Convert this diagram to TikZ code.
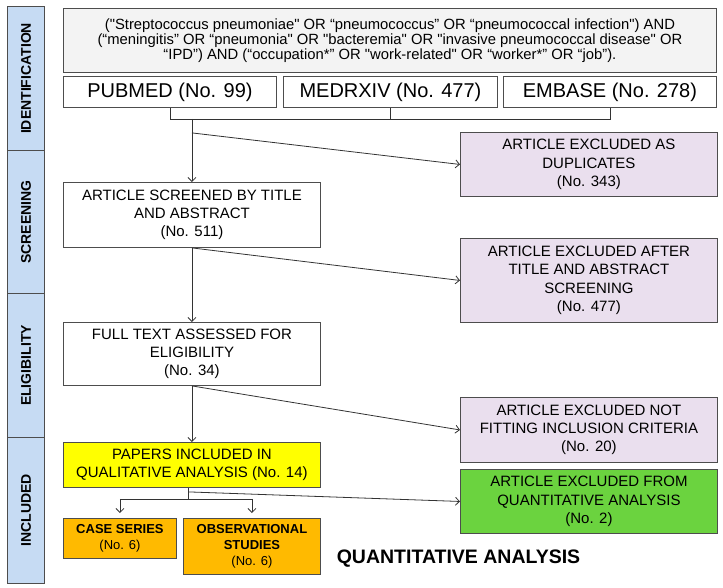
\documentclass[tikz,border=0pt]{standalone}
\usepackage{fontspec}
\setmainfont{Liberation Sans}
\newfontfamily\qfont{Liberation Sans}
\usetikzlibrary{arrows.meta,calc}
\definecolor{linegray}{HTML}{4D4D4D}
\definecolor{conncol}{HTML}{333333}
\definecolor{sidebl}{HTML}{C6DBF3}
\definecolor{querybg}{HTML}{F3F3F3}
\definecolor{lav}{HTML}{EADFEE}
\definecolor{yel}{HTML}{FFFF00}
\definecolor{orng}{HTML}{FFBA00}
\definecolor{grn}{HTML}{6BD33F}
\begin{document}
\begin{tikzpicture}[x=1pt,y=-1pt,
  box/.style={draw=linegray, line width=0.9pt, inner sep=0pt, align=center, anchor=north west,
              font=\fontsize{15}{18.3}\selectfont},
  dbbox/.style={box, font=\fontsize{20}{22}\selectfont, minimum height=31pt},
  smallbox/.style={box, fill=orng, font=\fontsize{13}{16}\selectfont},
  sidebox/.style={draw=linegray, line width=0.9pt, fill=sidebl, inner sep=0pt, anchor=north west, minimum width=37pt},
  sidelab/.style={rotate=90, font=\bfseries\fontsize{14}{16}\selectfont},
  conn/.style={draw=conncol, line width=0.8pt},
  arr/.style={conn, -{Straight Barb[length=4pt,width=8pt]}}]
\useasboundingbox (0,0) rectangle (723,587);

% side bar
\node[sidebox, minimum height=144pt] (s1) at (7,6) {};
\node[sidebox, minimum height=143pt] (s2) at (7,150) {};
\node[sidebox, minimum height=144pt] (s3) at (7,293) {};
\node[sidebox, minimum height=146pt] (s4) at (7,437) {};
\node[sidelab] (l1) at (s1.center) {IDENTIFICATION};
\node[sidelab] (l2) at (s2.center) {SCREENING};
\node[sidelab] (l3) at (s3.center) {ELIGIBILITY};
\node[sidelab] (l4) at (s4.center) {INCLUDED};

% query
\node[box, fill=querybg, minimum width=653pt, minimum height=64pt, font=\qfont\fontsize{14.8}{14.8}\selectfont] (query) at (63,8)
  {("Streptococcus pneumoniae" OR “pneumococcus” OR “pneumococcal infection") AND\\
   (“meningitis” OR “pneumonia" OR "bacteremia" OR "invasive pneumococcal disease" OR\\
   “IPD”) AND (“occupation*” OR "work-related" OR “worker*” OR “job”).};

% databases
\node[dbbox, minimum width=213pt] (pub) at (63,76) {PUBMED (No. 99)};
\node[dbbox, minimum width=214pt] (med) at (283,76) {MEDRXIV (No. 477)};
\node[dbbox, minimum width=213pt] (emb) at (503,76) {EMBASE (No. 278)};

% main column
\node[box, minimum width=257pt, minimum height=65pt] (scr) at (63,182)
  {ARTICLE SCREENED BY TITLE\\AND ABSTRACT\\(No. 511)};
\node[box, minimum width=257pt, minimum height=63pt] (elig) at (63,322)
  {FULL TEXT ASSESSED FOR\\ELIGIBILITY\\(No. 34)};
\node[box, fill=yel, minimum width=257pt, minimum height=45pt] (incl) at (63,442)
  {PAPERS INCLUDED IN\\QUALITATIVE ANALYSIS (No. 14)};
\node[smallbox, minimum width=113pt, minimum height=40pt] (case) at (63,518)
  {\textbf{CASE SERIES}\\(No. 6)};
\node[smallbox, minimum width=137pt, minimum height=56pt] (obs) at (183,518)
  {\textbf{OBSERVATIONAL}\\\textbf{STUDIES}\\(No. 6)};

% right column
\node[box, fill=lav, minimum width=257pt, minimum height=64pt] (dup) at (460,132)
  {ARTICLE EXCLUDED AS\\DUPLICATES\\(No. 343)};
\node[box, fill=lav, minimum width=257pt, minimum height=84pt] (ex2) at (460,238)
  {ARTICLE EXCLUDED AFTER\\TITLE AND ABSTRACT\\SCREENING\\(No. 477)};
\node[box, fill=lav, minimum width=257pt, minimum height=65pt] (ex3) at (460,397)
  {ARTICLE EXCLUDED NOT\\FITTING INCLUSION CRITERIA\\(No. 20)};
\node[box, fill=grn, minimum width=257pt, minimum height=64pt] (grnbox) at (460,469)
  {ARTICLE EXCLUDED FROM\\QUANTITATIVE ANALYSIS\\(No. 2)};

\node[font=\bfseries\fontsize{19.5}{22}\selectfont] (quant) at (458.5,559) {QUANTITATIVE ANALYSIS};

% connectors
\draw[conn] (pub.south) -- ++(0,11) coordinate (bl) -| (emb.south);
\draw[conn] (med.south) -- (med.south |- bl);
\coordinate (brk) at (scr.north |- bl);
\draw[arr] (brk) -- (scr.north);
\coordinate (d1) at ($(brk)+(0,14)$);
\draw[arr] (d1) -- (dup.west);
\draw[arr] (scr.south) -- (elig.north);
\draw[arr] (scr.south) -- (ex2.west);
\draw[arr] (elig.south) -- (incl.north);
\draw[arr] (elig.south) -- (ex3.west);
\coordinate (ys) at ($(incl.south)+(-3.5,0)$);
\draw[conn] (ys) -- ++(0,11) coordinate (yh);
\draw[conn] (case.north |- yh) -- (obs.north |- yh);
\draw[arr] (case.north |- yh) -- ($(case.north)+(0,-5)$);
\draw[arr] (obs.north |- yh) -- ($(obs.north)+(0,-5)$);
\coordinate (yd) at ($(ys)+(0,4)$);
\draw[arr] (yd) -- (grnbox.west);
\end{tikzpicture}
\end{document}
